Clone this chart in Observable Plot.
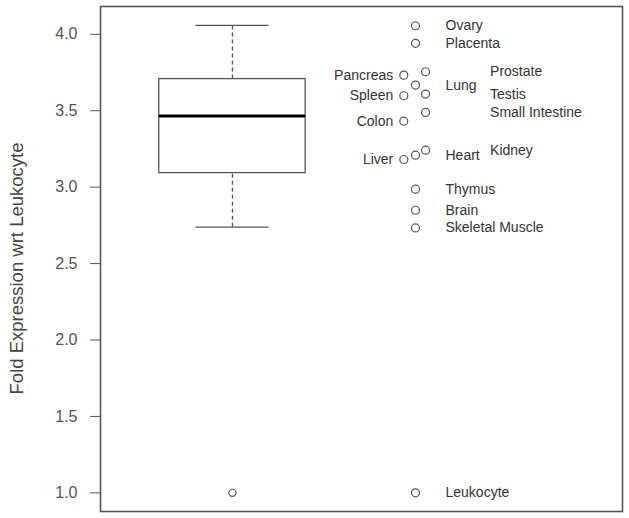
<!DOCTYPE html>
<html>
<head>
<meta charset="utf-8">
<script src="https://cdn.jsdelivr.net/npm/d3@7"></script>
<script src="https://cdn.jsdelivr.net/npm/@observablehq/plot@0.6"></script>
<style>
  html, body { margin: 0; padding: 0; background: #fff; }
  svg { display: block; }
</style>
</head>
<body>
<div id="chart"></div>
<script>
// Tissues shown to the right of the box, with their fold expression values
const tissues = ["Ovary","Placenta","Pancreas","Prostate","Lung","Spleen","Testis","Small Intestine","Colon","Liver","Heart","Kidney","Thymus","Brain","Skeletal Muscle","Leukocyte"];
const values  = [4.056, 3.941, 3.733, 3.755, 3.668, 3.598, 3.609, 3.489, 3.432, 3.181, 3.209, 3.242, 2.987, 2.849, 2.733, 1.0];
// jitter column of each point: -1 left, 0 centre, 1 right
const side    = [0, 0, -1, 1, 0, -1, 1, 1, -1, -1, 0, 1, 0, 0, 0, 0];
const jitterAmount = {"-1": -0.064, "0": 0, "1": 0.055};

// Box plot summary (group position 1)
const boxStats = {lower: 2.738, q1: 3.092, median: 3.465, q3: 3.707, upper: 4.059};
const boxOutliers = [1.0];

const yTicks = [1.0, 1.5, 2.0, 2.5, 3.0, 3.5, 4.0];
const yTitle = "Fold Expression wrt Leukocyte";

const boxX = 1, stripX = 2;
const pts = tissues.map((t, i) => ({tissue: t, value: values[i], side: side[i], x: stripX + jitterAmount[side[i]]}));
const box = [boxStats];
const outl = boxOutliers.map(v => ({value: v, x: boxX}));

const font = "'Liberation Sans', Arial, Helvetica, sans-serif";

const plot = Plot.plot({
  width: 629,
  height: 518,
  marginLeft: 100,
  marginRight: 7,
  marginTop: 6,
  marginBottom: 7,
  style: {fontFamily: font, background: "#fff"},
  x: {domain: [0.279, 3.131], axis: null},
  y: {domain: [0.878, 4.182]},
  marks: [
    // whiskers
    Plot.ruleX(box, {x: () => boxX, y1: "lower", y2: "q1", stroke: "#555", strokeWidth: 1.3, strokeDasharray: "4,3"}),
    Plot.ruleX(box, {x: () => boxX, y1: "q3", y2: "upper", stroke: "#555", strokeWidth: 1.3, strokeDasharray: "4,3"}),
    Plot.ruleY(box, {y: "lower", x1: () => boxX - 0.2, x2: () => boxX + 0.2, stroke: "#555", strokeWidth: 1.3}),
    Plot.ruleY(box, {y: "upper", x1: () => boxX - 0.2, x2: () => boxX + 0.2, stroke: "#555", strokeWidth: 1.3}),
    Plot.rect(box, {x1: () => boxX - 0.4, x2: () => boxX + 0.4, y1: "q1", y2: "q3", fill: "white", stroke: "#555", strokeWidth: 1.3}),
    Plot.ruleY(box, {y: "median", x1: () => boxX - 0.4, x2: () => boxX + 0.4, stroke: "#000", strokeWidth: 3}),
    Plot.dot(outl, {x: "x", y: "value", r: 3.6, stroke: "#555", strokeWidth: 1.2, fill: "none"}),
    // strip points
    Plot.dot(pts, {x: "x", y: "value", r: 4, stroke: "#555", strokeWidth: 1.2, fill: "none"}),
    Plot.text(pts.filter(d => d.side === -1), {x: "x", y: "value", text: "tissue", textAnchor: "end", dx: -10.5, fontSize: 14, fill: "#333"}),
    Plot.text(pts.filter(d => d.side === 0), {x: "x", y: "value", text: "tissue", textAnchor: "start", dx: 30, fontSize: 14, fill: "#333"}),
    Plot.text(pts.filter(d => d.side === 1), {x: "x", y: "value", text: "tissue", textAnchor: "start", dx: 64.5, fontSize: 14, fill: "#333"}),
    // axis
    Plot.axisY({ticks: yTicks, tickFormat: d3.format(".1f"), tickSize: 10, tickPadding: 13, fontSize: 16, color: "#555", label: null, anchor: "left"}),
    Plot.frame({stroke: "#555", strokeWidth: 1.6}),
    Plot.text([yTitle], {frameAnchor: "left", text: d => d, rotate: -90, dx: -83, dy: 9.5, fontSize: 18.5, fill: "#444", textAnchor: "middle"})
  ]
});
document.getElementById("chart").appendChild(plot);
</script>
</body>
</html>
